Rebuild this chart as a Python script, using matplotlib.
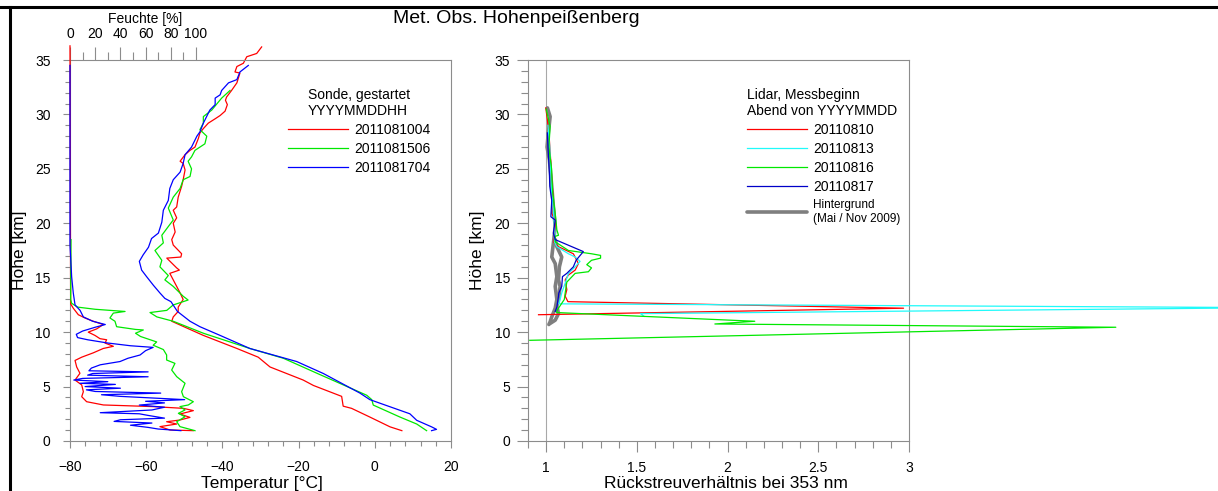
import matplotlib.pyplot as plt
from matplotlib.lines import Line2D
from matplotlib.ticker import MultipleLocator, FixedLocator

plt.rcParams['font.family'] = ['Liberation Sans', 'DejaVu Sans']

# Radiosonde temperature profiles (height km, temperature degC), top -> bottom
t04_h = [36.2, 35.6, 35.3, 34.7, 34.4, 33.9, 33.8, 32.9, 32.2, 31.6, 31.3, 30.9, 30.3, 29.9,
         29.6, 29.2, 28.7, 28.3, 27.8, 27.0, 26.7, 26.3, 25.7, 25.5, 24.9, 24.0, 23.4, 22.4,
         21.5, 21.2, 20.5, 20.0, 19.2, 18.5, 18.0, 17.2, 16.9, 16.8, 15.9, 15.7, 15.4, 14.8,
         14.2, 13.6, 13.0, 12.3, 11.9, 11.4, 11.0, 9.7, 8.5, 7.7, 6.8, 5.6, 5.1, 4.1, 3.2,
         3.0, 2.2, 1.3, 0.95]
t04 = [-29.7, -31.0, -33.6, -34.5, -36.2, -36.7, -35.4, -36.2, -37.6, -38.9, -39.2, -38.7,
       -39.3, -40.6, -41.9, -43.7, -45.0, -45.9, -46.3, -47.2, -48.5, -49.8, -51.1, -50.3,
       -49.8, -50.3, -50.7, -51.6, -52.0, -52.9, -52.0, -52.9, -52.4, -53.3, -52.9, -50.7,
       -50.9, -54.6, -52.0, -51.3, -53.8, -52.9, -52.0, -51.1, -50.3, -51.6, -51.6, -52.9,
       -53.3, -45.0, -36.2, -30.6, -27.5, -18.8, -16.1, -8.7, -8.3, -6.1, -1.3, 4.0, 7.1]

t06_h = [32.2, 31.5, 30.4, 29.8, 29.2, 28.6, 28.0, 27.3, 26.7, 26.1, 25.7, 25.0, 24.3, 24.0,
         23.2, 22.4, 21.4, 20.3, 19.7, 18.9, 18.2, 17.5, 16.6, 16.0, 15.2, 14.8, 14.2, 13.3,
         12.95, 12.5, 12.0, 11.8, 11.4, 11.0, 9.9, 8.5, 7.6, 6.1, 4.2, 3.8, 3.3, 2.2, 1.56, 0.95]
t06 = [-38.0, -40.2, -42.8, -45.0, -45.0, -45.9, -44.1, -44.6, -47.2, -48.1, -49.0, -48.1,
       -48.5, -50.3, -51.1, -52.9, -54.2, -52.9, -54.2, -55.9, -55.5, -57.7, -55.9, -56.4,
       -54.2, -55.1, -52.9, -50.3, -49.0, -52.9, -54.6, -59.0, -57.2, -52.9, -45.0, -32.8,
       -24.0, -14.4, -2.1, -0.8, -0.4, 6.6, 11.0, 13.6]

t17_h = [34.5, 33.9, 33.2, 32.9, 32.2, 31.8, 31.5, 30.9, 30.4, 29.2, 28.4, 28.0, 27.0, 26.3,
         25.5, 24.7, 24.0, 23.2, 22.1, 21.2, 20.1, 19.1, 18.6, 17.8, 17.1, 16.5, 15.7, 15.1,
         14.3, 13.6, 13.1, 12.8, 11.9, 11.0, 10.5, 9.7, 8.5, 7.3, 6.2, 4.4, 3.8, 2.5, 1.9,
         1.3, 1.07, 0.95]
t17 = [-33.2, -35.4, -36.2, -38.4, -40.2, -40.6, -41.9, -41.9, -43.3, -45.0, -45.9, -46.7,
       -48.1, -49.8, -50.3, -51.1, -52.9, -53.8, -54.2, -55.5, -55.9, -56.8, -58.6, -59.4,
       -60.8, -61.8, -61.2, -59.9, -58.1, -56.4, -55.1, -53.5, -51.8, -48.5, -45.9, -40.6,
       -32.8, -20.5, -13.5, -3.9, -1.3, 9.2, 11.0, 14.9, 16.2, 14.9]

# Radiosonde relative humidity (height km, %)
f04_h = [36.3, 12.6, 12.2, 11.6, 11.3, 11.0, 10.7, 10.3, 10.0, 9.7, 9.4, 9.3, 9.0, 8.7, 8.5,
         8.1, 7.7, 7.4, 6.8, 6.22, 5.6, 5.15, 4.53, 4.07, 3.61, 3.31, 3.16, 3.0, 2.79, 2.48,
         2.17, 1.93, 1.77, 1.56, 1.32, 1.01, 0.95]
f04 = [0, 0.5, 2.6, 6.6, 11.9, 18.5, 26.4, 21.2, 14.5, 19.8, 23.8, 29.1, 27.8, 34.4, 26.4,
       18.5, 9.3, 4.0, 5.3, 7.9, 4.0, 9.3, 10.6, 9.3, 13.2, 26.5, 66, 90, 97.9, 87.3, 95.2,
       87.3, 76.7, 84.7, 71.4, 79.4, 97.9]

f06_h = [18.5, 13.0, 12.65, 12.3, 12.1, 11.9, 11.75, 11.3, 11.0, 10.5, 10.25, 10.2, 9.9, 9.6,
         9.1, 8.8, 8.4, 7.9, 7.44, 7.13, 6.52, 5.91, 5.3, 4.53, 4.07, 3.61, 3.31, 3.16, 2.85,
         2.54, 2.23, 1.77, 1.32, 0.95]
f06 = [0.8, 0.5, 1.3, 6, 20, 43.7, 34.4, 31.7, 35.7, 37.0, 52, 58.2, 52, 56, 68.8, 66, 74.1,
       76.7, 76.7, 83.3, 80.7, 84.7, 91.3, 88.6, 90, 97.9, 93.9, 87.3, 91.3, 86, 91.3, 84.7,
       87.3, 99.2]

f17_h = [34.5, 18.0, 15.1, 13.6, 12.5, 12.0, 11.4, 11.0, 10.7, 10.45, 10.1, 9.8, 9.5, 9.3,
         9.0, 8.75, 8.6, 8.3, 7.9, 7.6, 7.3, 7.0, 6.7, 6.45, 6.35, 6.2, 6.05, 5.9, 5.75, 5.6,
         5.45, 5.3, 5.2, 5.0, 4.85, 4.7, 4.55, 4.4, 4.25, 4.1, 3.8, 3.65, 3.5, 3.3, 3.1, 2.85,
         2.6, 2.5, 2.35, 2.1, 1.95, 1.8, 1.65, 1.45, 1.25, 1.1, 0.95]
f17 = [0, 0, 1.3, 2.6, 4, 8, 10.6, 18, 28, 20, 10, 5, 6, 14, 30, 48, 66, 60, 55.6, 46, 39.7,
       24, 17, 15, 62, 18, 14, 62, 10, 3, 30, 8, 36, 12, 40, 13, 20, 72, 25, 40, 91, 60, 75,
       55, 75, 65, 24, 55, 62, 75, 40, 35, 65, 48, 62, 70, 88]

# Lidar backscatter ratio at 353 nm (height km, ratio)
l10_h = [30.6, 29.5, 27.6, 25.8, 24.0, 22.1, 20.9, 20.3, 18.8, 18.3, 17.85, 17.2, 16.3, 15.7,
         15.25, 14.8, 13.9, 13.3, 12.8, 12.2, 11.6]
l10 = [0.998, 1.007, 1.018, 1.025, 1.031, 1.04, 1.031, 1.05, 1.05, 1.04, 1.068, 1.15, 1.178,
       1.16, 1.123, 1.105, 1.114, 1.105, 1.12, 2.97, 0.958]

l13_h = [29.0, 27.0, 25.0, 23.0, 21.0, 19.0, 18.3, 17.85, 17.2, 16.9, 16.5, 16.0, 15.4, 14.5,
         13.6, 13.0, 12.6, 12.25, 11.7, 11.45]
l13 = [1.01, 1.02, 1.025, 1.03, 1.04, 1.05, 1.045, 1.059, 1.123, 1.16, 1.187, 1.16, 1.123,
       1.105, 1.086, 1.077, 1.07, 5.0, 1.52, 1.54]

l16_h = [30.5, 28.9, 27.0, 25.0, 23.0, 20.9, 19.4, 18.9, 18.8, 18.3, 17.5, 17.2, 17.05, 16.8,
         16.6, 16.2, 15.9, 15.55, 15.4, 14.6, 13.6, 13.0, 12.65, 12.0, 11.8, 11.0, 10.75, 10.45,
         9.25]
l16 = [1.0, 1.022, 1.015, 1.03, 1.035, 1.05, 1.059, 1.068, 1.05, 1.05, 1.123, 1.25, 1.30,
       1.30, 1.25, 1.224, 1.25, 1.233, 1.16, 1.114, 1.105, 1.10, 1.086, 1.06, 1.058, 2.15, 1.93,
       4.14, 0.91]

l17_h = [28.3, 27.0, 24.6, 23.4, 22.1, 20.6, 20.3, 19.1, 18.5, 17.4, 16.6, 16.0, 15.4, 15.1,
         14.2, 13.6, 13.3, 12.3, 11.9]
l17 = [1.007, 1.01, 1.018, 1.02, 1.031, 1.026, 1.05, 1.04, 1.05, 1.205, 1.165, 1.15, 1.114,
       1.09, 1.086, 1.07, 1.068, 1.059, 1.05]

# background profiles (May / Nov 2009)
bg_mai_h = [30.6, 29.8, 28.3, 27.0, 25.8, 23.4, 21.5, 19.7, 18.2, 16.9, 16.3, 15.1, 14.2,
            13.0, 12.2, 11.4, 10.95, 10.7]
bg_mai = [1.007, 1.022, 1.012, 1.005, 1.018, 1.031, 1.04, 1.05, 1.04, 1.031, 1.05, 1.059,
          1.05, 1.059, 1.05, 1.031, 1.022, 1.015]
bg_nov_h = [18.5, 17.85, 16.9, 16.0, 14.8, 14.2, 13.0, 12.4, 11.7, 11.1, 10.8]
bg_nov = [1.05, 1.059, 1.086, 1.073, 1.068, 1.077, 1.068, 1.059, 1.068, 1.05, 1.022]

RED, GREEN, BLUE, CYAN, NAVY, GREY = '#ff0000', '#00e800', '#0000ff', '#20fafa', '#0000c8', '#7f7f7f'
AX_GREY = '#8c8c8c'

fig = plt.figure(figsize=(12.18, 4.91), dpi=100)
fig.patch.set_facecolor('white')

ax = fig.add_axes([70 / 1218, 50 / 491, 381 / 1218, 381 / 491])
axr = fig.add_axes([528 / 1218, 50 / 491, 381 / 1218, 381 / 491])


def style_axes(a, major_len, minor_len, pad):
    for sp in a.spines.values():
        sp.set_color(AX_GREY)
        sp.set_linewidth(0.8)
    a.tick_params(which='both', direction='out', colors=AX_GREY, labelcolor='black',
                  labelsize=10, width=0.8, pad=pad, top=False, right=False)
    a.tick_params(which='major', length=major_len)
    a.tick_params(which='minor', length=minor_len)
    a.set_ylim(0, 35)
    a.yaxis.set_major_locator(MultipleLocator(5))
    a.yaxis.set_minor_locator(MultipleLocator(1))
    a.set_ylabel('Höhe [km]', fontsize=12.5)
    a.yaxis.set_label_coords(-0.113, 0.5)


# ---- left panel: radiosonde
style_axes(ax, 5, 3.5, 9)
ax.set_xlim(-80, 20)
ax.xaxis.set_major_locator(MultipleLocator(20))
ax.xaxis.set_minor_locator(MultipleLocator(4))
ax.set_xlabel('Temperatur [°C]', fontsize=12.5)
ax.xaxis.set_label_coords(0.504, -0.092)

h1, = ax.plot(t04, t04_h, color=RED, lw=0.9, clip_on=False, label='2011081004')
h2, = ax.plot(t06, t06_h, color=GREEN, lw=0.9, clip_on=False, label='2011081506')
h3, = ax.plot(t17, t17_h, color=BLUE, lw=0.9, clip_on=False, label='2011081704')

axh = ax.twiny()
axh.set_xlim(0, 302.4)
axh.set_ylim(0, 35)
for sp in axh.spines.values():
    sp.set_visible(False)
axh.xaxis.set_major_locator(FixedLocator([0, 20, 40, 60, 80, 100]))
axh.xaxis.set_minor_locator(FixedLocator([10, 30, 50, 70, 90]))
axh.tick_params(which='both', direction='out', colors=AX_GREY, labelcolor='black',
                labelsize=10, width=0.8, pad=4.5)
axh.tick_params(which='major', length=9.5)
axh.tick_params(which='minor', length=6)
axh.set_xlabel('Feuchte [%]', fontsize=10)
axh.xaxis.set_label_coords(0.197, 1.098)
axh.plot(f04, f04_h, color=RED, lw=0.9, clip_on=False)
axh.plot(f06, f06_h, color=GREEN, lw=0.9, clip_on=False)
axh.plot(f17, f17_h, color=BLUE, lw=0.9, clip_on=False)

leg = ax.legend(handles=[h1, h2, h3], title='Sonde, gestartet\nYYYYMMDDHH',
                loc='upper left', bbox_to_anchor=(0.572, 0.9265), frameon=False,
                fontsize=10, title_fontsize=10, borderpad=0, borderaxespad=0,
                handlelength=4.3, handletextpad=0.45, labelspacing=0.36)

# ---- right panel: lidar
style_axes(axr, 8, 5, 5)
axr.tick_params(axis='x', pad=6.5)
axr.set_xlim(0.9, 3.0)
axr.xaxis.set_major_locator(FixedLocator([1, 1.5, 2, 2.5, 3]))
axr.xaxis.set_minor_locator(MultipleLocator(0.1))
axr.xaxis.set_major_formatter(plt.FuncFormatter(lambda v, p: f'{v:g}'))
axr.set_xlabel('Rückstreuverhältnis bei 353 nm', fontsize=12.5)
axr.xaxis.set_label_coords(0.52, -0.092)
axr.axvline(1.0, color='#a8a8a8', lw=0.8, zorder=1)

axr.plot(bg_mai, bg_mai_h, color=GREY, lw=2.6, zorder=2, solid_capstyle='round')
g, = axr.plot(bg_nov, bg_nov_h, color=GREY, lw=2.6, zorder=2, solid_capstyle='round',
              label='Hintergrund\n(Mai / Nov 2009)')
r1, = axr.plot(l10, l10_h, color=RED, lw=0.9, clip_on=False, zorder=3, label='20110810')
r2, = axr.plot(l13, l13_h, color=CYAN, lw=0.9, clip_on=False, zorder=3, label='20110813')
r3, = axr.plot(l16, l16_h, color=GREEN, lw=0.9, clip_on=False, zorder=3, label='20110816')
r4, = axr.plot(l17, l17_h, color=NAVY, lw=0.9, clip_on=False, zorder=3, label='20110817')

legr = axr.legend(handles=[r1, r2, r3, r4, g], title='Lidar, Messbeginn\nAbend von YYYYMMDD',
                  loc='upper left', bbox_to_anchor=(0.575, 0.9265), frameon=False,
                  fontsize=10, title_fontsize=10, borderpad=0, borderaxespad=0,
                  handlelength=4.3, handletextpad=0.45, labelspacing=0.36,
                  alignment='left')
legr.get_texts()[4].set_fontsize(8.5)

fig.text(0.4236, 0.963, 'Met. Obs. Hohenpeißenberg', ha='center', va='center', fontsize=14)

# black frame at top and left of the page
fig.add_artist(Line2D([0, 1], [0.9857, 0.9857], color='black', lw=2.2,
                      transform=fig.transFigure))
fig.add_artist(Line2D([0.0082, 0.0082], [0, 0.9857], color='black', lw=2.2,
                      transform=fig.transFigure))

fig.savefig('out.png', dpi=100)
